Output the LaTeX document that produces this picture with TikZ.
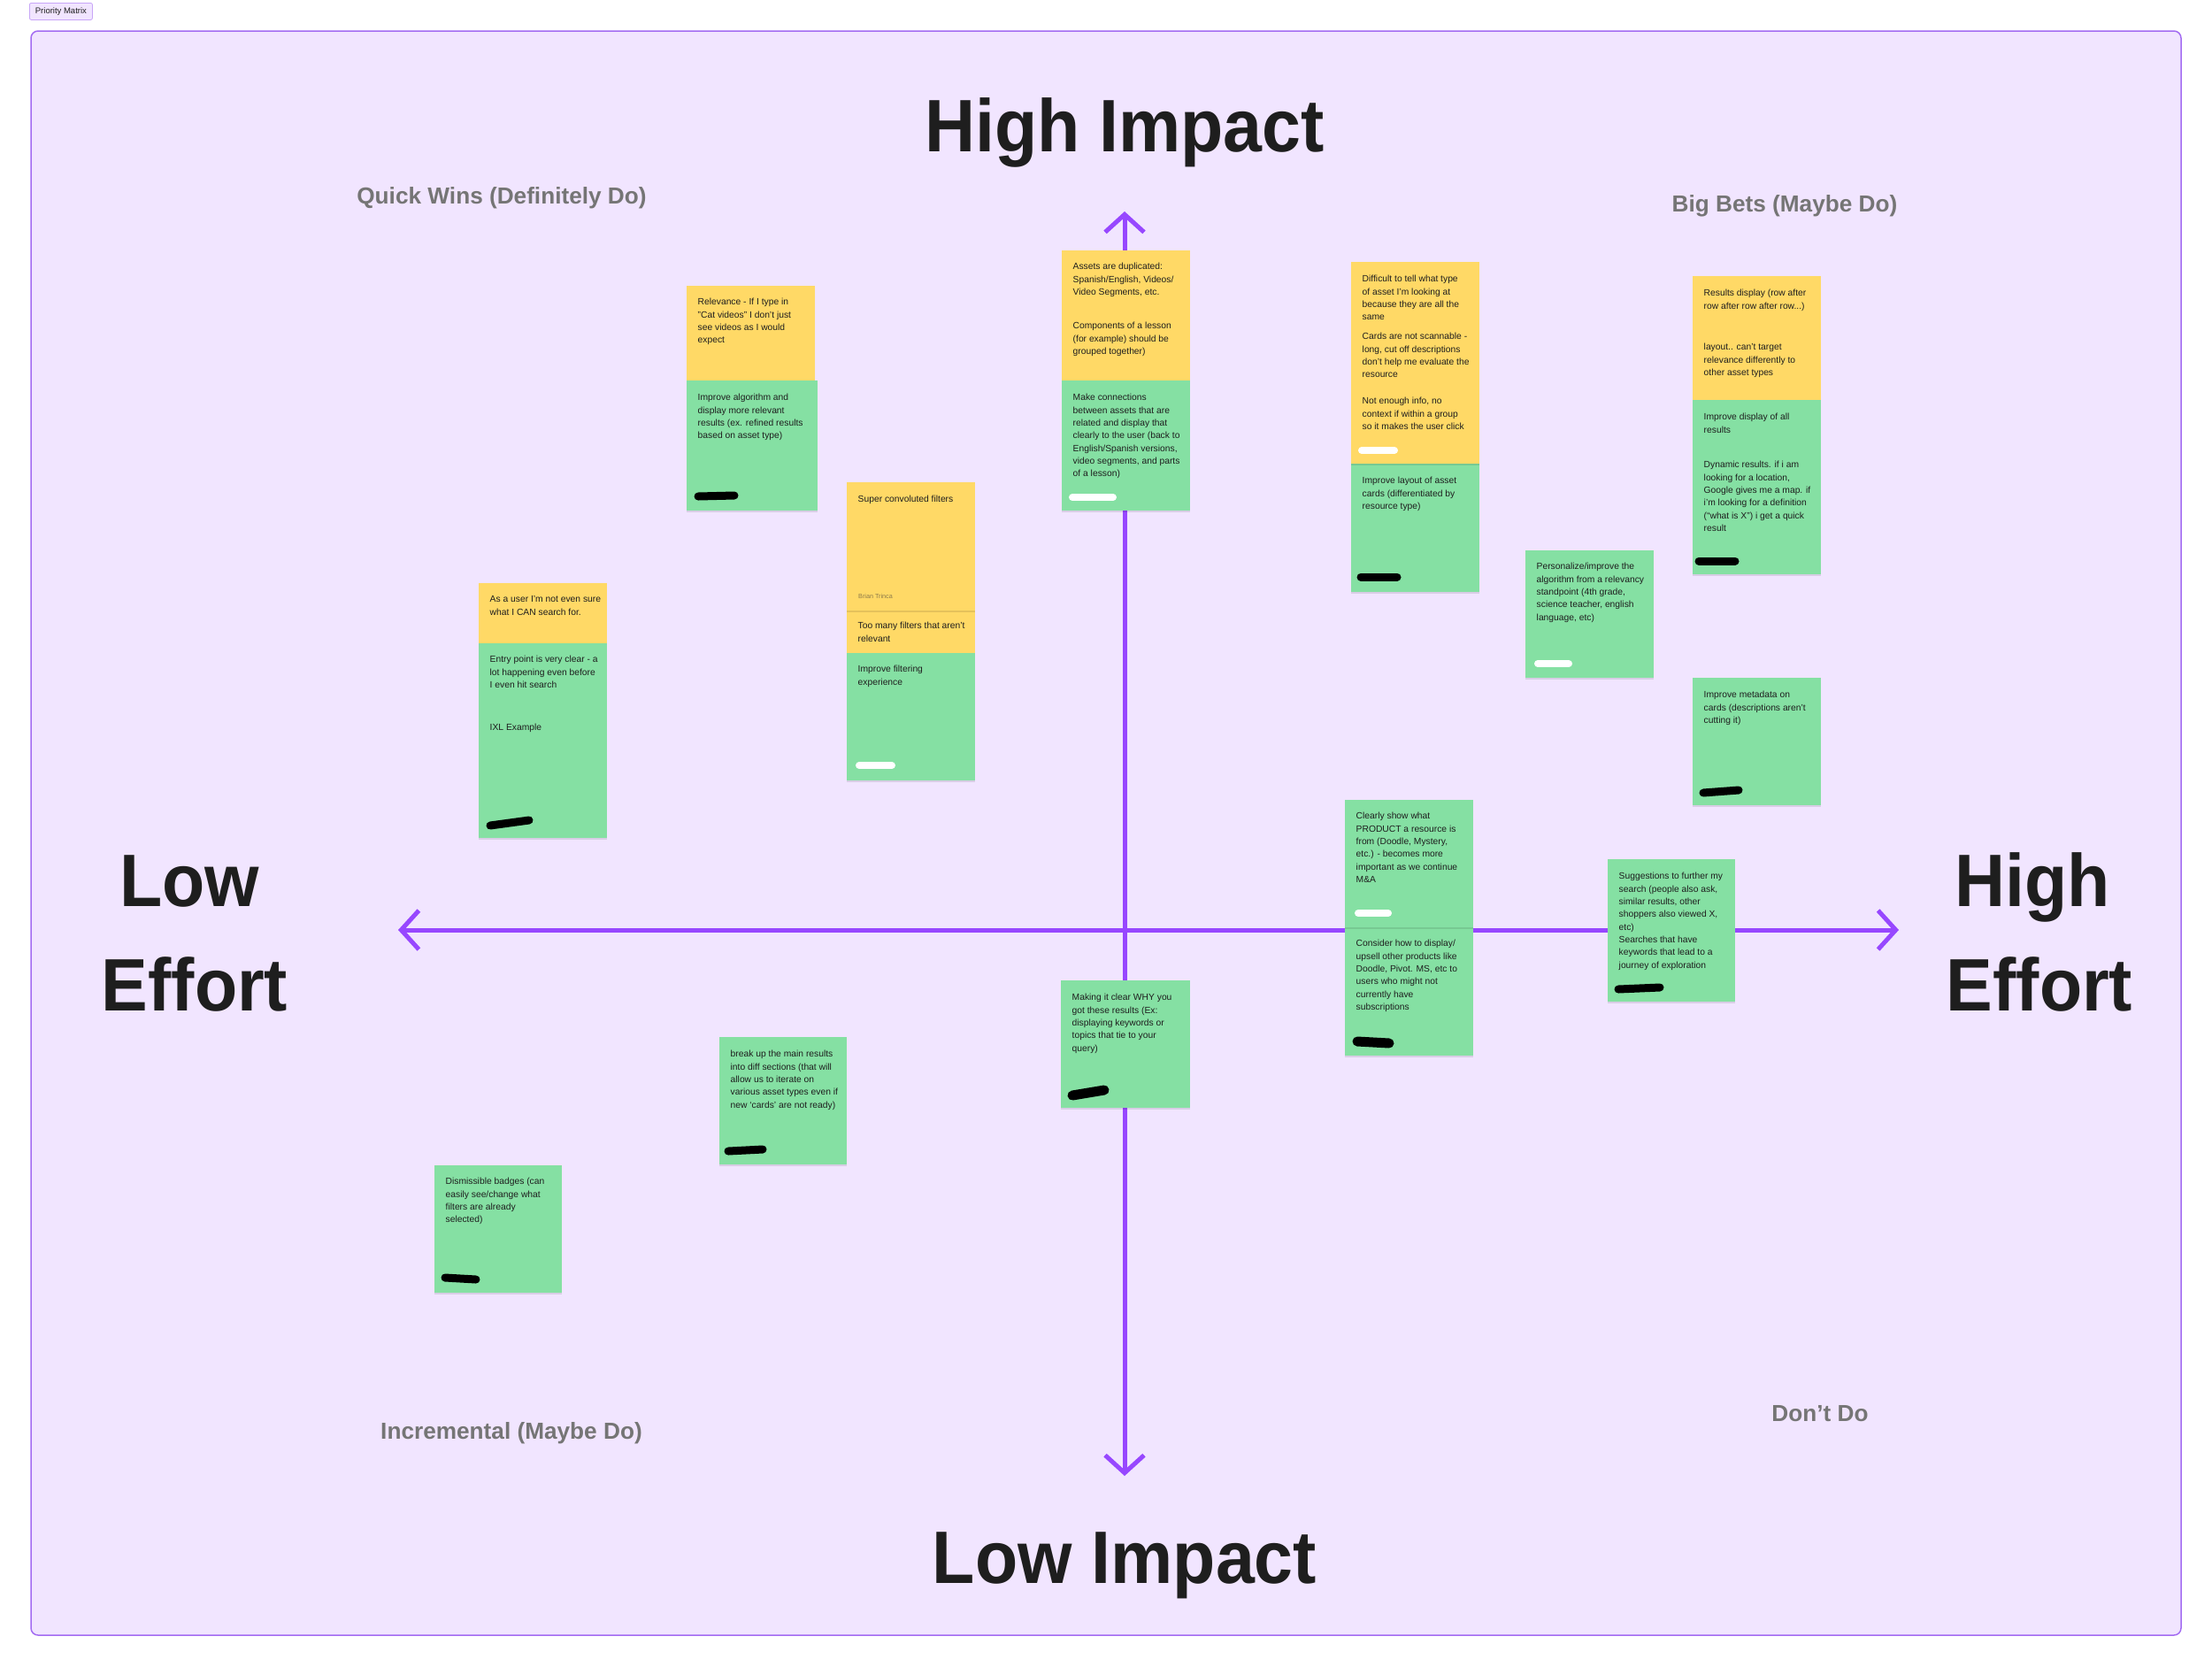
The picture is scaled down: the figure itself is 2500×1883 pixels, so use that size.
\documentclass[tikz,border=0pt]{standalone}
\usepackage{fontspec}
\setmainfont{Liberation Sans}
\newfontfamily\headfont[FakeStretch=0.94]{Liberation Sans}
\usepackage{tikz}
\usetikzlibrary{positioning,arrows.meta,shadows}
\definecolor{stickyyellow}{HTML}{FFD966}
\definecolor{stickygreen}{HTML}{85E0A3}
\definecolor{sectionfill}{HTML}{F1E5FF}
\definecolor{sectionline}{HTML}{A36BF2}
\definecolor{axispurple}{HTML}{9747FF}
\definecolor{inkdark}{HTML}{1E1E1E}
\definecolor{labelgray}{HTML}{757575}
\definecolor{authorgray}{HTML}{8C7A4A}

\begin{document}
\begin{tikzpicture}[x=1pt, y=-1pt,
  note/.style={anchor=north west, inner sep=0pt, minimum width=145pt, draw=none,
    drop shadow={shadow xshift=0pt, shadow yshift=-2pt, opacity=0.10, fill=black}},
  yellownote/.style={note, fill=stickyyellow},
  greennote/.style={note, fill=stickygreen},
  notetext/.style={anchor=north west, inner sep=0pt, align=left, text=inkdark,
    font=\fontsize{10.3}{14.3}\selectfont},
  axisline/.style={line width=5pt, draw=axispurple,
    {Straight Barb[length=20pt, width=44pt]}-{Straight Barb[length=20pt, width=44pt]}},
  head/.style={inner sep=0pt, anchor=base, text=inkdark, font=\headfont\fontsize{84}{100}\selectfont\bfseries},
  quadrant/.style={inner sep=0pt, anchor=base, text=labelgray, font=\fontsize{26.2}{30}\selectfont\bfseries},
  blackmark/.style={line width=9pt, line cap=round, draw=black},
  whitemark/.style={line width=8pt, line cap=round, draw=white}
]
\useasboundingbox (0,0) rectangle (2500,1883);

\draw[fill=sectionfill, draw=sectionline, line width=1.5pt, rounded corners=8pt] (35,35) rectangle (2465,1848);
\node[draw=sectionline!60, fill=sectionfill, rounded corners=2pt, line width=0.8pt, inner xsep=6.5pt,
  minimum height=19pt, anchor=north west, font=\fontsize{9.5}{11}\selectfont, text=inkdark] (tag) at (33,3) {Priority Matrix};

\coordinate (west) at (450,1051);
\coordinate (east) at (2146,1051);
\coordinate (north) at (1271,239);
\coordinate (south) at (1271,1668);
\draw[axisline] (west) -- (east);
\draw[axisline] (north) -- (south);

\node[head] (highimpact) at (1271,171) {High Impact};
\node[head] (lowimpact) at (1271,1789) {Low Impact};
\node[head] (low) at (214,1024) {Low};
\node[head] (loweffort) at (220,1142) {Effort};
\node[head] (high) at (2297,1024) {High};
\node[head] (higheffort) at (2305,1142) {Effort};

\node[quadrant] (quickwins) at (567,230) {Quick Wins (Definitely Do)};
\node[quadrant] (bigbets) at (2017,239) {Big Bets (Maybe Do)};
\node[quadrant] (incremental) at (578,1626) {Incremental (Maybe Do)};
\node[quadrant] (dontdo) at (2057,1606) {Don’t Do};

% relevance
\node[yellownote, minimum height=107pt] (n1a) at (776,323) {};
\node[greennote, minimum width=148pt, minimum height=147pt] (n1b) at (776,430) {};
\node[notetext] (t1a) at ([shift={(12.5,11.7)}]n1a.north west) {\strut Relevance - If I type in\\"Cat videos" I don’t just\\see videos as I would\\expect};
\node[notetext] (t1b) at ([shift={(12.5,12.7)}]n1b.north west) {\strut Improve algorithm and\\display more relevant\\results (ex. refined results\\based on asset type)};
\draw[blackmark] (789,561) -- (830,560);

% duplicates
\node[yellownote, minimum height=147pt] (n2a) at (1200,283) {};
\node[greennote, minimum height=147pt] (n2b) at (1200,430) {};
\node[notetext] (t2a) at ([shift={(12.5,11.7)}]n2a.north west) {\strut Assets are duplicated:\\Spanish/English, Videos/\\Video Segments, etc.};
\node[notetext] (t2b) at ([shift={(12.5,78.7)}]n2a.north west) {\strut Components of a lesson\\(for example) should be\\grouped together)};
\node[notetext] (t2c) at ([shift={(12.5,12.7)}]n2b.north west) {\strut Make connections\\between assets that are\\related and display that\\clearly to the user (back to\\English/Spanish versions,\\video segments, and parts\\of a lesson)};
\draw[whitemark] (1212,562) -- (1258,562);

% asset type
\node[greennote, minimum height=145pt] (n3b) at (1527,524) {};
\node[yellownote, minimum height=228pt] (n3a) at (1527,296) {};
\node[notetext] (t3a) at ([shift={(12.5,12.7)}]n3a.north west) {\strut Difficult to tell what type\\of asset I’m looking at\\because they are all the\\same};
\node[notetext] (t3b) at ([shift={(12.5,77.7)}]n3a.north west) {\strut Cards are not scannable -\\long, cut off descriptions\\don’t help me evaluate the\\resource};
\node[notetext] (t3c) at ([shift={(12.5,150.7)}]n3a.north west) {\strut Not enough info, no\\context if within a group\\so it makes the user click};
\node[notetext] (t3d) at ([shift={(12.5,12.7)}]n3b.north west) {\strut Improve layout of asset\\cards (differentiated by\\resource type)};
\draw[whitemark] (1539,509) -- (1576,509);
\draw[blackmark] (1538,652) -- (1579,652);

% results display
\node[yellownote, minimum height=140pt] (n4a) at (1913,312) {};
\node[greennote, minimum height=197pt] (n4b) at (1913,452) {};
\node[notetext] (t4a) at ([shift={(12.5,12.7)}]n4a.north west) {\strut Results display (row after\\row after row after row...)};
\node[notetext] (t4b) at ([shift={(12.5,73.7)}]n4a.north west) {\strut layout.. can’t target\\relevance differently to\\other asset types};
\node[notetext] (t4c) at ([shift={(12.5,12.7)}]n4b.north west) {\strut Improve display of all\\results};
\node[notetext] (t4d) at ([shift={(12.5,66.7)}]n4b.north west) {\strut Dynamic results. if i am\\looking for a location,\\Google gives me a map. if\\i’m looking for a definition\\(“what is X”) i get a quick\\result};
\draw[blackmark] (1920,634) -- (1961,634);

% personalize, metadata
\node[greennote, minimum height=144pt] (n5) at (1724,622) {};
\node[notetext] (t5) at ([shift={(12.5,11.7)}]n5.north west) {\strut Personalize/improve the\\algorithm from a relevancy\\standpoint (4th grade,\\science teacher, english\\language, etc)};
\draw[whitemark] (1738,750) -- (1773,750);
\node[greennote, minimum height=144pt] (n6) at (1913,766) {};
\node[notetext] (t6) at ([shift={(12.5,12.7)}]n6.north west) {\strut Improve metadata on\\cards (descriptions aren’t\\cutting it)};
\draw[blackmark] (1925,896) -- (1965,893);

% entry point
\node[yellownote, minimum height=68pt] (n7a) at (541,659) {};
\node[greennote, minimum height=220pt] (n7b) at (541,727) {};
\node[notetext] (t7a) at ([shift={(12.5,11.7)}]n7a.north west) {\strut As a user I’m not even sure\\what I CAN search for.};
\node[notetext] (t7b) at ([shift={(12.5,11.7)}]n7b.north west) {\strut Entry point is very clear - a\\lot happening even before\\I even hit search};
\node[notetext] (t7c) at ([shift={(12.5,88.7)}]n7b.north west) {\strut IXL Example};
\draw[blackmark] (554,933) -- (598,927);

% filters
\node[yellownote, minimum height=48pt] (n8b) at (957,690) {};
\node[greennote, minimum height=144pt] (n8c) at (957,738) {};
\node[yellownote, minimum height=145pt] (n8a) at (957,545) {};
\node[notetext] (t8a) at ([shift={(12.5,12.7)}]n8a.north west) {\strut Super convoluted filters};
\node[anchor=base west, inner sep=0pt, text=authorgray, font=\fontsize{7.2}{9}\selectfont] (author) at (970,676) {Brian Trinca};
\node[notetext] (t8b) at ([shift={(12.5,10.7)}]n8b.north west) {\strut Too many filters that aren’t\\relevant};
\node[notetext] (t8c) at ([shift={(12.5,11.7)}]n8c.north west) {\strut Improve filtering\\experience};
\draw[whitemark] (971,865) -- (1008,865);

% product
\node[greennote, minimum height=145pt] (n9b) at (1520,1048) {};
\node[greennote, minimum height=144pt] (n9a) at (1520,904) {};
\node[notetext] (t9a) at ([shift={(12.5,11.7)}]n9a.north west) {\strut Clearly show what\\PRODUCT a resource is\\from (Doodle, Mystery,\\etc.) - becomes more\\important as we continue\\M\&A};
\node[notetext] (t9b) at ([shift={(12.5,11.7)}]n9b.north west) {\strut Consider how to display/\\upsell other products like\\Doodle, Pivot. MS, etc to\\users who might not\\currently have\\subscriptions};
\draw[whitemark] (1535,1032) -- (1569,1032);
\draw[blackmark, line width=11pt] (1534,1177) -- (1570,1179);

% suggestions
\node[greennote, minimum width=144pt, minimum height=161pt] (n10) at (1817,971) {};
\node[notetext] (t10) at ([shift={(12.5,12.7)}]n10.north west) {\strut Suggestions to further my\\search (people also ask,\\similar results, other\\shoppers also viewed X,\\etc)\\Searches that have\\keywords that lead to a\\journey of exploration};
\draw[blackmark] (1829,1118) -- (1876,1116);

% low impact
\node[greennote, minimum width=146pt, minimum height=144pt] (n11) at (1199,1108) {};
\node[notetext] (t11) at ([shift={(12.5,12.7)}]n11.north west) {\strut Making it clear WHY you\\got these results (Ex:\\displaying keywords or\\topics that tie to your\\query)};
\draw[blackmark, line width=11pt] (1212,1238) -- (1248,1232);

\node[greennote, minimum width=144pt, minimum height=144pt] (n12) at (813,1172) {};
\node[notetext] (t12) at ([shift={(12.5,12.7)}]n12.north west) {\strut break up the main results\\into diff sections (that will\\allow us to iterate on\\various asset types even if\\new ‘cards’ are not ready)};
\draw[blackmark] (823,1301) -- (862,1299);

\node[greennote, minimum width=144pt, minimum height=144pt] (n13) at (491,1317) {};
\node[notetext] (t13) at ([shift={(12.5,11.7)}]n13.north west) {\strut Dismissible badges (can\\easily see/change what\\filters are already\\selected)};
\draw[blackmark] (503,1444) -- (538,1446);
\end{tikzpicture}
\end{document}
